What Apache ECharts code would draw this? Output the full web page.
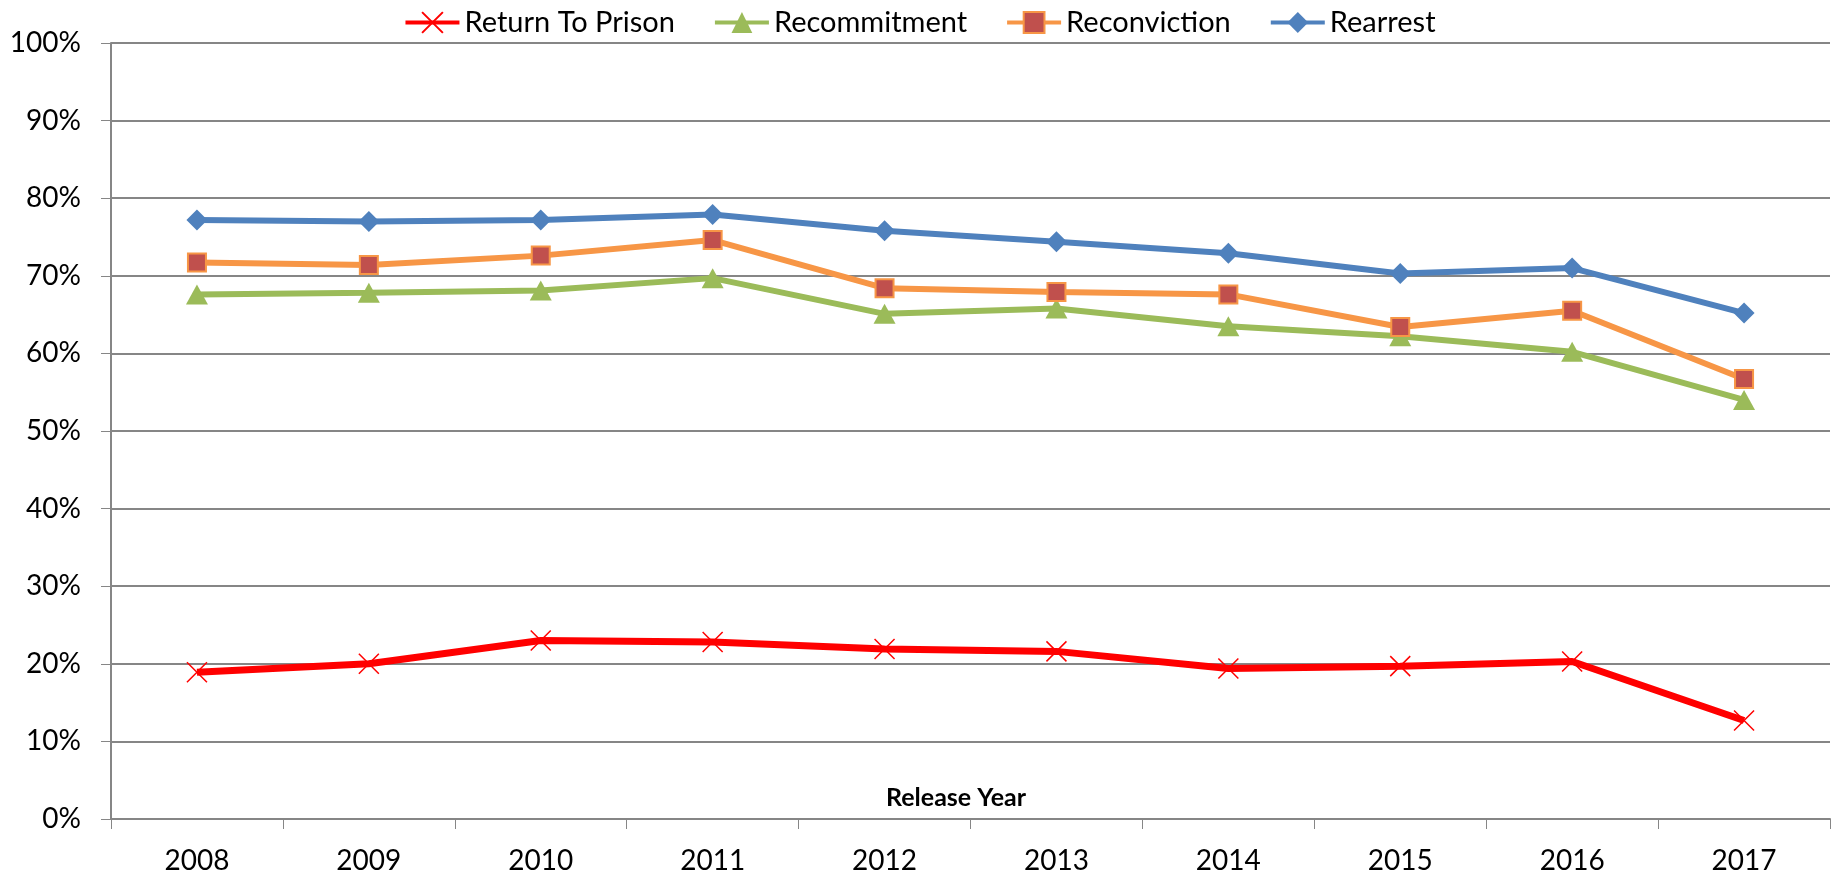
<!DOCTYPE html>
<html>
<head>
<meta charset="utf-8">
<script src="https://cdn.jsdelivr.net/npm/echarts@6/dist/echarts.min.js"></script>
<style>
  html, body { margin: 0; padding: 0; background: #fff; }
  #main { width: 1839px; height: 877px; }
</style>
</head>
<body>
<div id="main"></div>
<script>
// release years and recidivism rates (%)
var years = ['2008', '2009', '2010', '2011', '2012', '2013', '2014', '2015', '2016', '2017'];
var returnToPrison = [18.9, 20.0, 23.0, 22.8, 21.9, 21.6, 19.4, 19.7, 20.3, 12.7];
var recommitment = [67.6, 67.8, 68.1, 69.7, 65.1, 65.8, 63.5, 62.2, 60.2, 54.0];
var reconviction = [71.7, 71.4, 72.6, 74.6, 68.4, 67.9, 67.6, 63.4, 65.5, 56.7];
var rearrest = [77.2, 77.0, 77.2, 77.9, 75.8, 74.4, 72.9, 70.3, 71.0, 65.2];

var font = 'Lato';

window.onload = function () {
  var mychart = echarts.init(document.getElementById('main'));

  var option = {
    animation: false,
    legend: {
      top: 3,
      left: 'center',
      itemGap: 38,
      itemWidth: 54,
      itemHeight: 26,
      textStyle: { fontFamily: font, fontSize: 29, color: '#000' },
      lineStyle: { width: 4 },
      data: ['Return To Prison', 'Recommitment', 'Reconviction', 'Rearrest']
    },
    grid: { left: 111, right: 9, top: 43, bottom: 58, outerBoundsMode: 'none', containLabel: false },
    graphic: [{
      type: 'text',
      x: 956,
      y: 798,
      style: {
        text: 'Release Year',
        fontFamily: font,
        fontSize: 25,
        fontWeight: 'bold',
        fill: '#000',
        align: 'center',
        verticalAlign: 'middle'
      }
    }],
    xAxis: {
      type: 'category',
      data: years,
      boundaryGap: true,
      axisLine: { lineStyle: { color: '#868686', width: 2 } },
      axisTick: { show: true, length: 10, lineStyle: { color: '#868686' } },
      axisLabel: { fontFamily: font, fontSize: 28, color: '#000', margin: 28 }
    },
    yAxis: {
      type: 'value',
      min: 0,
      max: 100,
      interval: 10,
      axisLine: { show: true, lineStyle: { color: '#868686', width: 2 } },
      axisTick: { show: true, length: 10, lineStyle: { color: '#868686' } },
      axisLabel: { fontFamily: font, fontSize: 28, color: '#000', margin: 30, formatter: '{value}%' },
      splitLine: { lineStyle: { color: '#868686', width: 2 } }
    },
    series: [
      {
        name: 'Return To Prison',
        type: 'line',
        data: returnToPrison,
        symbol: 'path://M0,0L10,10M10,0L0,10',
        symbolSize: 20,
        lineStyle: { color: '#FF0000', width: 7 },
        itemStyle: { color: 'rgba(0,0,0,0)', borderColor: '#FF0000', borderWidth: 1.5 },
        z: 5
      },
      {
        name: 'Recommitment',
        type: 'line',
        data: recommitment,
        symbol: 'triangle',
        symbolSize: [22, 20],
        lineStyle: { color: '#9BBB59', width: 6 },
        itemStyle: { color: '#9BBB59', borderWidth: 0 }
      },
      {
        name: 'Reconviction',
        type: 'line',
        data: reconviction,
        symbol: 'rect',
        symbolSize: 18,
        lineStyle: { color: '#F79646', width: 6 },
        itemStyle: { color: '#C0504D', borderColor: '#F79646', borderWidth: 2 }
      },
      {
        name: 'Rearrest',
        type: 'line',
        data: rearrest,
        symbol: 'diamond',
        symbolSize: 21,
        lineStyle: { color: '#4F81BD', width: 6 },
        itemStyle: { color: '#4F81BD', borderWidth: 0 }
      }
    ]
  };
  mychart.setOption(option);
};
</script>
</body>
</html>
